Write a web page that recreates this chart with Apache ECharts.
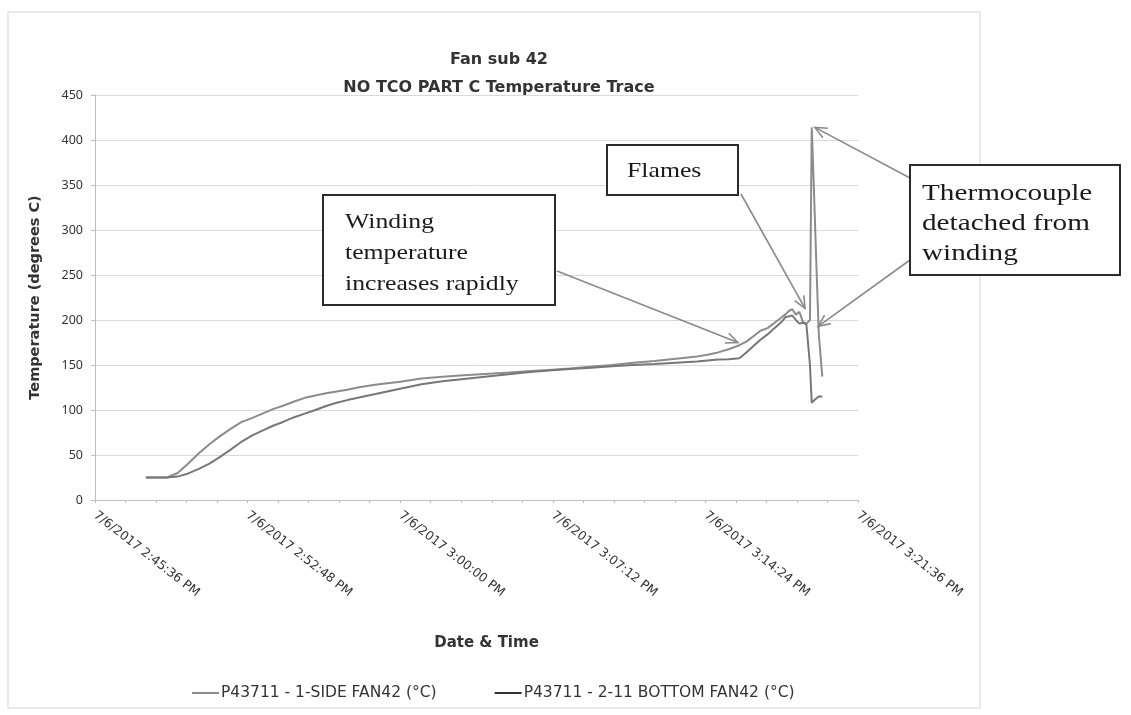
<!DOCTYPE html>
<html>
<head>
<meta charset="utf-8">
<script src="https://cdn.jsdelivr.net/npm/echarts@6/dist/echarts.min.js"></script>
<style>html,body{margin:0;padding:0;background:#fff}#c{width:1131px;height:715px}</style>
</head>
<body>
<div id="c"></div>
<script>
// ---------- DATA ----------
const axisStart = '14:45:36';           // 7/6/2017 2:45:36 PM
const axisEnd   = '15:21:36';           // 7/6/2017 3:21:36 PM
const tickStepSeconds = 432;            // 7 min 12 s between labelled ticks
const yTicks = [0, 50, 100, 150, 200, 250, 300, 350, 400, 450];

const seriesNames = ['P43711 - 1-SIDE FAN42 (°C)', 'P43711 - 2-11 BOTTOM FAN42 (°C)'];

const times = [
  '14:48:00','14:48:30','14:49:00','14:49:30','14:50:00','14:50:30','14:51:00','14:51:30',
  '14:52:00','14:52:30','14:53:00','14:53:30','14:54:00','14:54:30','14:55:00','14:55:30',
  '14:56:00','14:56:30','14:57:00','14:57:30','14:58:00','14:58:30','14:59:00','14:59:30',
  '15:00:00','15:01:00','15:02:00','15:03:00','15:04:00','15:05:00','15:06:00','15:07:00',
  '15:08:00','15:09:00','15:10:00','15:11:00','15:12:00','15:13:00','15:14:00','15:14:30',
  '15:15:00','15:15:30','15:16:00','15:16:20','15:16:40','15:17:00','15:17:20','15:17:40',
  '15:18:00','15:18:10','15:18:20','15:18:30','15:18:40','15:18:50','15:19:00','15:19:10',
  '15:19:15','15:19:20','15:19:25','15:19:30','15:19:35','15:19:40','15:19:45','15:19:50',
  '15:19:55'
];
const sideFan = [
  25,25,25,30,40.5,52,62,71,
  79,86.5,91,96,101,105,109.5,113.5,
  116,118.5,120.5,122.5,125,127,128.5,130,
  131.5,135,137,138.5,140,141.5,143,144.5,
  146,148,150,152.5,154.5,157,159.5,161.5,
  164,167.5,172,176,182,188,191,197,
  203,206,210,212,206,209,198,196,
  197,200,414,360,300,240,185,160,
  137
];
const bottomFan = [
  25,25,25,26,29.5,34.5,40.5,48,
  56,64.5,71.5,77,82.5,87,92,96,
  100,104.5,108,111,113.5,116,118.5,121,
  123.5,128.5,132,134.5,137,139.5,142,144,
  145.5,147,148.5,150,151,152.5,154,155,
  156,156.5,157.5,164,171,178,184,191,
  198,203,204,205,200,196,197,195,
  196,150,108,110,112,114,115,115,
  115
];

// Callouts: text lines and the data point each arrow points at
const callouts = [
  {lines: ['Winding', 'temperature', 'increases rapidly'], tips: [['15:15:56', 175]]},
  {lines: ['Flames'], tips: [['15:19:06', 213]]},
  {lines: ['Thermocouple', 'detached from', 'winding'], tips: [['15:19:34', 414], ['15:19:43', 193]]}
];

// ---------- helpers ----------
function toSec(s){const p=s.split(':').map(Number);return p[0]*3600+p[1]*60+p[2];}
const base = toSec(axisStart);
function off(s){return toSec(s)-base;}
function fmt(v){
  let t = base + Math.round(v);
  let h = Math.floor(t/3600), m = Math.floor((t%3600)/60), s = t%60;
  const ap = h>=12?'PM':'AM'; let h12 = h%12; if(h12===0) h12=12;
  return '7/6/2017 '+h12+':'+String(m).padStart(2,'0')+':'+String(s).padStart(2,'0')+' '+ap;
}

const chart = echarts.init(document.getElementById('c'), null, {renderer:'canvas'});
const sans = '"DejaVu Sans", "Noto Sans", sans-serif';
const noto = '"Noto Sans", "Open Sans", sans-serif';
const serif = '"Liberation Serif", "DejaVu Serif", serif';
const colors = ['#8c8c8c', '#777777'];
const txt = '#333333';

const option = {
  backgroundColor: '#ffffff',
  animation: false,
  title: {
    text: 'Fan sub 42\nNO TCO PART C Temperature Trace',
    left: 494, top: 41, textAlign: 'center',
    textStyle: {fontFamily: sans, fontSize: 16, fontWeight: 'bold', color: txt, lineHeight: 28}
  },
  legend: {
    left: 192, top: 685, padding: 0, itemGap: 58, itemWidth: 27, itemHeight: 2, icon: 'rect',
    textStyle: {fontFamily: sans, fontSize: 15.5, color: txt, padding: [0,0,0,-3]},
    data: seriesNames
  },
  grid: {left: 95, right: 273, top: 95, bottom: 215, containLabel: false},
  xAxis: {
    type: 'value', min: 0, max: off(axisEnd), interval: tickStepSeconds,
    name: 'Date & Time', nameLocation: 'middle', nameGap: 136,
    nameTextStyle: {fontFamily: sans, fontSize: 15, fontWeight: 'bold', color: txt, padding: [0,0,0,20]},
    axisLine: {lineStyle: {color: '#bdbdbd'}},
    axisTick: {show: true, length: 3, lineStyle: {color: '#bdbdbd'}},
    minorTick: {show: true, splitNumber: 5, length: 3, lineStyle: {color: '#bdbdbd'}},
    splitLine: {show: false},
    axisLabel: {rotate: -38, margin: 14, formatter: fmt, fontFamily: sans, fontSize: 12.5, color: txt}
  },
  yAxis: {
    type: 'value', min: yTicks[0], max: yTicks[yTicks.length-1], interval: yTicks[1]-yTicks[0],
    name: 'Temperature (degrees C)', nameLocation: 'middle', nameGap: 52,
    nameTextStyle: {fontFamily: sans, fontSize: 14.5, fontWeight: 'bold', color: txt},
    axisLine: {show: true, lineStyle: {color: '#bdbdbd'}},
    axisTick: {show: true, length: 4, lineStyle: {color: '#bdbdbd'}},
    splitLine: {lineStyle: {color: '#d9d9d9'}},
    axisLabel: {margin: 12, fontFamily: noto, fontSize: 12.5, color: txt}
  },
  series: [
    {name: seriesNames[0], type: 'line', showSymbol: false, symbol: 'none',
     lineStyle: {color: colors[0], width: 2}, itemStyle: {color: colors[0]},
     data: times.map((t,i)=>[off(t), sideFan[i]])},
    {name: seriesNames[1], type: 'line', showSymbol: false, symbol: 'none',
     lineStyle: {color: colors[1], width: 2}, itemStyle: {color: '#333'},
     data: times.map((t,i)=>[off(t), bottomFan[i]])}
  ]
};
chart.setOption(option);

// ---------- callout boxes and arrows ----------
const boxes = [
  {x: 323, y: 195, w: 232, h: 110, tx: 345, ty0: 222, lh: 31, fs: 22, sx: 1.17, starts: [[557, 271]]},
  {x: 607, y: 145, w: 131, h: 50, tx: 627, ty0: 171, lh: 31, fs: 22, sx: 1.17, starts: [[741, 194]]},
  {x: 910, y: 165, w: 210, h: 110, tx: 922, ty0: 194, lh: 30, fs: 23, sx: 1.27, starts: [[910, 178], [910, 260]]}
];
const g = [];
g.push({type: 'rect', shape: {x: 8, y: 12, width: 972, height: 696}, style: {fill: 'none', stroke: '#d4d4d4', lineWidth: 1}, z: 0, silent: true});
function arrow(s, p){
  const dx = s[0]-p[0], dy = s[1]-p[1]; const L = Math.hypot(dx,dy); const ux = dx/L, uy = dy/L;
  const a = 0.42, len = 13;
  const r = (ang)=>[p[0] + len*(ux*Math.cos(ang) - uy*Math.sin(ang)), p[1] + len*(ux*Math.sin(ang) + uy*Math.cos(ang))];
  g.push({type: 'line', shape: {x1: s[0], y1: s[1], x2: p[0], y2: p[1]}, style: {stroke: '#8a8a8a', lineWidth: 1.6}, z: 50, silent: true});
  const h1 = r(a), h2 = r(-a);
  g.push({type: 'polyline', shape: {points: [h1, p, h2]}, style: {stroke: '#8a8a8a', lineWidth: 1.6, fill: 'none'}, z: 50, silent: true});
}
callouts.forEach((c, i) => {
  const b = boxes[i];
  g.push({type: 'rect', shape: {x: b.x, y: b.y, width: b.w, height: b.h},
          style: {fill: '#ffffff', stroke: '#2b2b2b', lineWidth: 2}, z: 60, silent: true});
  c.lines.forEach((ln, k) => {
    g.push({type: 'text', x: b.tx, y: b.ty0 + k*b.lh, scaleX: b.sx, z: 61, silent: true,
            style: {text: ln, font: b.fs + 'px ' + serif, fill: '#1a1a1a', textVerticalAlign: 'middle', verticalAlign: 'middle'}});
  });
  c.tips.forEach((tp, k) => {
    const p = chart.convertToPixel({xAxisIndex: 0, yAxisIndex: 0}, [off(tp[0]), tp[1]]);
    arrow(b.starts[k], p);
  });
});
chart.setOption({graphic: g});
</script>
</body>
</html>
